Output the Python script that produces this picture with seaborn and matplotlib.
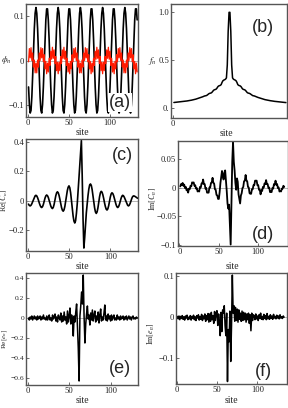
import numpy as np
import matplotlib
matplotlib.use('Agg')
import matplotlib.pyplot as plt
import seaborn as sns

# --- data (one value per site) ---
phi_black = [
    -0.060, -0.100, -0.119, -0.113, -0.082, -0.034, 0.021, 0.072, 0.107, 0.120, 0.107, 0.072, 0.021, -0.034,
    -0.082, -0.113, -0.119, -0.100, -0.060, -0.007, 0.048, 0.092, 0.117, 0.117, 0.092, 0.048, -0.007,
    -0.060, -0.100, -0.119, -0.113, -0.082, -0.034, 0.021, 0.072, 0.107, 0.120, 0.107, 0.072, 0.021, -0.034,
    -0.082, -0.113, -0.119, -0.100, -0.060, -0.007, 0.048, 0.092, 0.117, 0.117, 0.092, 0.048, -0.007,
    -0.060, -0.100, -0.119, -0.113, -0.082, -0.034, 0.021, 0.072, 0.107, 0.120, 0.107, 0.072, 0.021, -0.034,
    -0.082, -0.113, -0.119, -0.100, -0.060, -0.007, 0.048, 0.092, 0.117, 0.117, 0.092, 0.048, -0.007,
    -0.060, -0.100, -0.119, -0.113, -0.082, -0.034, 0.021, 0.072, 0.107, 0.120, 0.107, 0.072, 0.021, -0.034,
    -0.082, -0.113, -0.119, -0.100, -0.060, -0.007, 0.048, 0.092, 0.117, 0.117, 0.092, 0.048, -0.007,
    -0.060, -0.100, -0.119, -0.113, -0.082, -0.034, 0.021, 0.072, 0.107, 0.120, 0.107, 0.072, 0.021, -0.034,
    -0.082, -0.113, -0.119, -0.100, -0.060, -0.007, 0.048, 0.092, 0.117, 0.117, 0.092,
]
phi_red = [
    -0.003, 0.027, 0.006, 0.029, 0.000, 0.017, -0.015, 0.001, -0.028, -0.006, -0.028, 0.001, -0.015, 0.017,
    0.000, 0.029, 0.006, 0.027, -0.003, 0.013, -0.019, -0.002, -0.030, -0.006, -0.026, 0.005, -0.011,
    0.021, 0.003, 0.030, 0.005, 0.024, -0.007, 0.009, -0.023, -0.004, -0.030, -0.004, -0.023, 0.009, -0.007,
    0.024, 0.005, 0.030, 0.003, 0.021, -0.011, 0.005, -0.026, -0.006, -0.030, -0.002, -0.019, 0.013,
    -0.003, 0.027, 0.006, 0.029, 0.000, 0.017, -0.015, 0.001, -0.028, -0.006, -0.028, 0.001, -0.015, 0.017,
    0.000, 0.029, 0.006, 0.027, -0.003, 0.013, -0.019, -0.002, -0.030, -0.006, -0.026, 0.005, -0.011,
    0.021, 0.003, 0.030, 0.005, 0.024, -0.007, 0.009, -0.023, -0.004, -0.030, -0.004, -0.023, 0.009, -0.007,
    0.024, 0.005, 0.030, 0.003, 0.021, -0.011, 0.005, -0.026, -0.006, -0.030, -0.002, -0.019, 0.013,
    -0.003, 0.027, 0.006, 0.029, 0.000, 0.017, -0.015, 0.001, -0.028, -0.006, -0.028, 0.001, -0.015, 0.017,
    0.000, 0.029, 0.006, 0.027, -0.003, 0.013, -0.019, -0.002, -0.030, -0.006, -0.026,
]
f_n = [
    0.058, 0.059, 0.060, 0.061, 0.062, 0.063, 0.064, 0.065, 0.066, 0.067,
    0.068, 0.069, 0.070, 0.071, 0.073, 0.074, 0.076, 0.077, 0.079, 0.080,
    0.082, 0.084, 0.086, 0.088, 0.090, 0.093, 0.096, 0.099, 0.102, 0.105,
    0.108, 0.111, 0.114, 0.118, 0.122, 0.126, 0.128, 0.130, 0.135, 0.143,
    0.150, 0.154, 0.156, 0.160, 0.170, 0.182, 0.190, 0.193, 0.196, 0.205,
    0.220, 0.230, 0.234, 0.237, 0.245, 0.268, 0.285, 0.292, 0.296, 0.302,
    0.315, 0.45, 0.80, 1.00, 1.00, 0.80, 0.45, 0.315, 0.302, 0.296,
    0.292, 0.285, 0.268, 0.245, 0.237, 0.234, 0.230, 0.220, 0.205, 0.196,
    0.193, 0.190, 0.182, 0.170, 0.160, 0.156, 0.154, 0.150, 0.143, 0.135,
    0.130, 0.128, 0.126, 0.122, 0.118, 0.114, 0.111, 0.108, 0.105, 0.102,
    0.099, 0.096, 0.093, 0.090, 0.088, 0.086, 0.084, 0.082, 0.080, 0.079,
    0.077, 0.076, 0.074, 0.073, 0.071, 0.070, 0.069, 0.068, 0.067, 0.066,
    0.065, 0.064, 0.063, 0.062, 0.061, 0.060, 0.059, 0.058, 0.057,
]
re_c = [
    -0.022, -0.031, -0.034, -0.030, -0.020, -0.006, 0.010, 0.024, 0.034, 0.038,
    0.034, 0.022, 0.006, -0.013, -0.029, -0.041, -0.045, -0.039, -0.024, -0.003,
    0.019, 0.034, 0.040, 0.035, 0.023, 0.004, -0.016, -0.035, -0.047, -0.052,
    -0.044, -0.024, 0.005, 0.034, 0.054, 0.062, 0.055, 0.037, 0.011, -0.019,
    -0.045, -0.063, -0.070, -0.061, -0.038, -0.003, 0.035, 0.070, 0.093, 0.102,
    0.089, 0.055, 0.004, -0.052, -0.103, -0.137, -0.150, -0.135, -0.085, -0.020,
    0.060, 0.150, 0.240, 0.330, 0.410, 0.170, -0.120, -0.320, -0.250, -0.160,
    -0.080, -0.020, 0.035, 0.080, 0.108, 0.115, 0.105, 0.077, 0.037, -0.007,
    -0.047, -0.075, -0.085, -0.075, -0.048, -0.010, 0.028, 0.055, 0.065, 0.059,
    0.041, 0.016, -0.013, -0.038, -0.056, -0.062, -0.054, -0.033, -0.004, 0.026,
    0.047, 0.055, 0.050, 0.036, 0.016, -0.006, -0.026, -0.040, -0.045, -0.039,
    -0.024, -0.004, 0.017, 0.032, 0.038, 0.034, 0.024, 0.010, -0.006, -0.020,
    -0.030, -0.034, -0.029, -0.017, 0.000, 0.017, 0.029, 0.034, 0.033, 0.030,
    0.026, 0.022, 0.018,
]
im_c = [
    0.002, 0.006, 0.004, 0.008, 0.003, 0.005, -0.001, 0.001, -0.005, -0.003,
    -0.009, -0.002, -0.003, 0.003, 0.002, 0.009, 0.008, 0.009, 0.003, 0.004,
    -0.002, -0.001, -0.007, -0.006, -0.007, 0.001, 0.000, 0.007, 0.007, 0.014,
    0.006, 0.006, -0.002, -0.001, -0.009, -0.009, -0.009, 0.000, 0.000, 0.008,
    0.009, 0.017, 0.008, 0.007, -0.003, -0.004, -0.013, -0.014, -0.020, -0.020,
    -0.008, 0.008, 0.018, 0.029, 0.020, 0.014, 0.026, 0.030, 0.012, -0.006,
    -0.028, -0.037, -0.030, -0.065, -0.100, -0.030, 0.045, 0.080, 0.045, 0.030,
    0.008, -0.004, 0.016, 0.010, -0.012, -0.020, -0.028, -0.014, -0.010, -0.001,
    0.001, 0.011, 0.012, 0.022, 0.012, 0.011, 0.001, 0.000, -0.010, -0.011,
    -0.011, -0.003, -0.003, 0.004, 0.004, 0.012, 0.012, 0.012, 0.004, 0.004,
    -0.004, -0.004, -0.012, -0.005, -0.006, 0.001, 0.000, 0.007, 0.006, 0.013,
    0.006, 0.006, -0.001, 0.000, -0.008, -0.007, -0.008, -0.001, -0.002, 0.006,
    0.005, 0.012, 0.005, 0.006, -0.001, 0.000, -0.007, -0.006, -0.007, -0.002,
    -0.002, 0.003, 0.001,
]
re_e = [
    0.00, -0.02, 0.01, -0.01, 0.02, -0.02, 0.00, 0.02, -0.01, 0.01,
    -0.02, 0.02, -0.01, 0.00, 0.02, -0.02, 0.01, -0.01, 0.03, -0.01,
    0.00, -0.02, 0.02, -0.02, 0.01, 0.03, -0.02, 0.00, -0.03, 0.03,
    -0.01, 0.01, 0.04, -0.03, 0.01, -0.04, 0.03, 0.00, -0.02, 0.05,
    -0.04, 0.02, -0.03, 0.06, -0.02, 0.01, -0.06, 0.07, -0.04, 0.02,
    0.10, -0.06, 0.03, -0.02, -0.18, 0.02, -0.04, 0.06, 0.14, -0.08,
    -0.30, -0.63, 0.02, 0.12, 0.26, 0.14, 0.43, 0.02, -0.25, -0.06,
    0.04, 0.12, -0.01, 0.03, -0.07, 0.05, -0.02, 0.08, -0.03, 0.03,
    0.07, -0.04, 0.02, -0.02, 0.06, -0.05, 0.03, 0.09, -0.03, 0.01,
    -0.02, 0.05, 0.13, -0.02, 0.02, -0.03, 0.04, -0.01, 0.02, -0.03,
    0.03, -0.02, 0.01, 0.03, -0.02, 0.00, -0.02, 0.03, -0.01, 0.01,
    -0.02, 0.02, -0.01, 0.00, 0.02, -0.02, 0.01, -0.01, 0.02, -0.02,
    0.00, 0.02, -0.01, 0.01, -0.02, 0.01, 0.02, -0.01, 0.00, -0.01,
    0.01, 0.00, 0.00,
]
im_e = [
    0.002, -0.004, 0.003, -0.006, 0.002, -0.003, 0.004, -0.005, 0.001, -0.007,
    0.003, -0.002, 0.005, -0.006, 0.000, -0.004, 0.004, -0.007, 0.002, -0.003,
    0.005, -0.006, 0.001, -0.008, 0.004, -0.002, 0.006, -0.007, 0.002, -0.005,
    0.007, -0.008, 0.003, -0.004, 0.008, -0.010, 0.004, -0.006, 0.009, -0.012,
    0.008, -0.010, 0.012, -0.006, 0.004, -0.015, 0.014, -0.008, 0.010, 0.016,
    -0.020, 0.008, -0.010, -0.045, 0.012, -0.035, 0.018, 0.010, 0.028, -0.020,
    -0.045, 0.010, -0.157, -0.030, -0.060, 0.015, -0.108, -0.020, 0.103, 0.010,
    0.028, -0.010, 0.024, -0.008, 0.020, -0.012, 0.018, -0.005, 0.010, -0.010,
    0.015, -0.008, 0.012, -0.006, 0.010, -0.012, 0.008, -0.006, 0.010, -0.015,
    0.006, -0.033, 0.010, -0.008, 0.006, 0.004, -0.006, 0.008, -0.004, 0.003,
    -0.008, 0.006, -0.003, 0.010, -0.005, 0.002, -0.006, 0.007, -0.003, 0.004,
    -0.006, 0.009, -0.004, 0.002, -0.005, 0.006, -0.003, 0.003, -0.005, 0.007,
    -0.002, 0.002, -0.004, 0.005, -0.002, 0.003, -0.004, 0.006, -0.002, 0.001,
    -0.003, 0.003, 0.000,
]

xticks_site = [0, 50, 100]
xticklabels_site = ['0', '50', '100']

sns.set_style('ticks')
plt.rcParams['font.family'] = ['Liberation Serif', 'DejaVu Serif']
plt.rcParams['mathtext.fontset'] = 'stix'
plt.rcParams['xtick.direction'] = 'in'
plt.rcParams['ytick.direction'] = 'in'

FRAME = '#555555'
fig = plt.figure(figsize=(2.88, 4.08), dpi=100)


def make_ax(px_left, px_top, px_right, px_bottom):
    W, H = 288.0, 408.0
    return fig.add_axes([px_left / W, 1 - px_bottom / H,
                         (px_right - px_left) / W, (px_bottom - px_top) / H])


def style(ax, xlim, ylim, yticks, yticklabels, ylabel, ylab_xy, horiz,
          letter, letter_xy, xticks=xticks_site, xticklabels=xticklabels_site,
          site_y=-0.1, site_x=0.5, ylab_size=6.5, letter_box=False, tick_size=6.2):
    ax.set_xlim(*xlim)
    ax.set_ylim(*ylim)
    ax.set_xticks(xticks)
    ax.set_xticklabels(xticklabels)
    ax.set_yticks(yticks)
    ax.set_yticklabels(yticklabels)
    ax.tick_params(labelsize=6.2, length=2, width=0.6, color=FRAME, pad=1.2)
    ax.tick_params(axis='y', labelsize=tick_size)
    for s in ax.spines.values():
        s.set_color(FRAME)
        s.set_linewidth(1.0)
    ax.set_xlabel('site', fontsize=7)
    ax.xaxis.set_label_coords(site_x, site_y)
    if horiz:
        ax.set_ylabel(ylabel, fontsize=ylab_size, rotation=0, ha='right', va='center')
    else:
        ax.set_ylabel(ylabel, fontsize=ylab_size)
    ax.yaxis.set_label_coords(*ylab_xy)
    box = dict(facecolor='white', edgecolor='none', pad=0.5) if letter_box else None
    ax.text(letter_xy[0], letter_xy[1], letter, transform=ax.transAxes,
            ha='center', va='center', fontsize=13, zorder=10, bbox=box,
            family=['Liberation Sans', 'DejaVu Sans'])


def curve(ax, y, color='black', lw=1.1):
    sites = np.arange(1, len(y) + 1)
    sns.lineplot(x=sites, y=y, ax=ax, color=color, lw=lw)


# (a)
ax = make_ax(26, 4, 138, 117)
ax.axhline(0, color='#999999', lw=0.5)
curve(ax, phi_black, lw=1.2)
curve(ax, phi_red, color='#ff1a00', lw=0.9)
style(ax, (-2.1, 134), (-0.128, 0.128), [-0.1, 0, 0.1], ['\u22120.1', '0', '0.1'],
      r'$\phi_n$', (-0.13, 0.5), True, '(a)', (0.84, 0.13), site_y=-0.095,
      letter_box=True)

# (b)
ax = make_ax(171, 4, 287, 118)
curve(ax, f_n, lw=1.1)
style(ax, (-2.3, 130.2), (-0.104, 1.087), [0, 0.5, 1.0], ['0.', '0.5', '1.0'],
      r'$f_n$', (-0.125, 0.5), True, '(b)', (0.79, 0.79),
      xticks=[0], xticklabels=['0'], site_y=-0.1, site_x=0.48)

# (c)
ax = make_ax(26, 139, 138, 251)
ax.axhline(0, color='#999999', lw=0.5)
curve(ax, re_c, lw=1.2)
style(ax, (-2, 133.5), (-0.34, 0.42), [-0.2, 0, 0.2, 0.4],
      ['\u22120.2', '0', '0.2', '0.4'], r'Re$[C_n]$', (-0.14, 0.45), False,
      '(c)', (0.86, 0.857), site_y=-0.098, ylab_size=5.6)

# (d)
ax = make_ax(178, 141, 287.5, 246)
ax.axhline(0, color='#999999', lw=0.5)
curve(ax, im_c, lw=1.3)
style(ax, (-1.9, 137.2), (-0.1025, 0.0815), [-0.1, -0.05, 0, 0.05],
      ['\u22120.1', '\u22120.05', '0', '0.05'], r'Im$[C_n]$', (-0.17, 0.45), False,
      '(d)', (0.78, 0.105), site_y=-0.15, ylab_size=5.8)

# (e)
ax = make_ax(26, 273, 138, 385)
ax.axhline(0, color='#999999', lw=0.5)
curve(ax, re_e, lw=1.1)
style(ax, (-2, 133), (-0.67, 0.45), [-0.6, -0.4, -0.2, 0, 0.2, 0.4],
      ['\u22120.6', '\u22120.4', '\u22120.2', '0', '0.2', '0.4'], r'Re$[e_n]$',
      (-0.14, 0.41), False, '(e)', (0.84, 0.15), site_y=-0.098, ylab_size=5.3,
      tick_size=5.4)

# (f)
ax = make_ax(176, 273, 287.3, 384)
ax.axhline(0, color='#999999', lw=0.5)
curve(ax, im_e, lw=1.1)
style(ax, (-0.7, 137), (-0.163, 0.108), [-0.1, 0, 0.1],
      ['\u22120.1', '0', '0.1'], r'Im$[e_n]$', (-0.17, 0.45), False,
      '(f)', (0.79, 0.117), site_y=-0.108, ylab_size=5.8)

fig.savefig('out.png', dpi=100)
